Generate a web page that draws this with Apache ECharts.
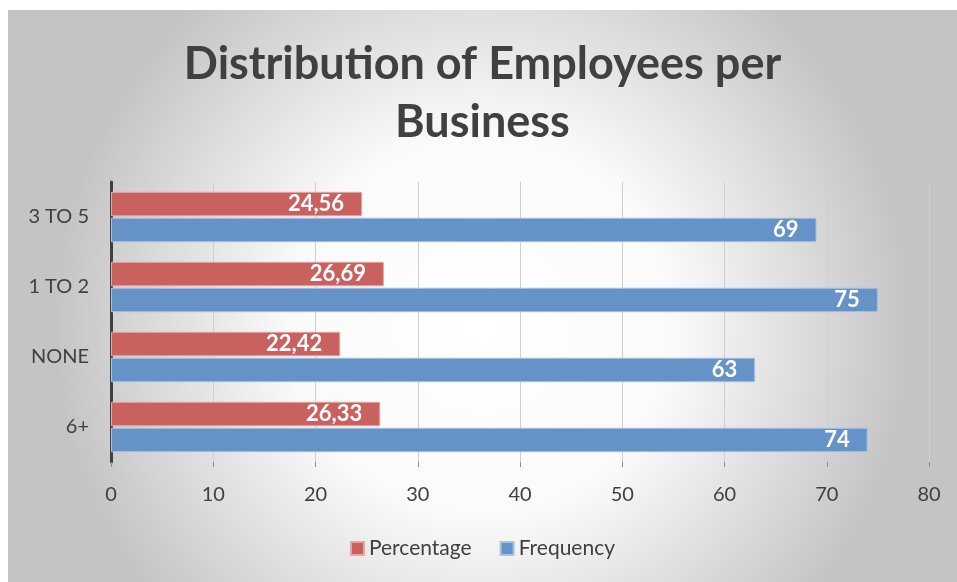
<!DOCTYPE html>
<html>
<head>
<meta charset="utf-8">
<script src="https://cdn.jsdelivr.net/npm/echarts@6/dist/echarts.min.js"></script>
<style>
  html, body { margin: 0; padding: 0; background: #ffffff; }
  #chart { position: absolute; left: 8px; top: 10px; width: 949px; height: 572px; }
</style>
</head>
<body>
<div id="chart"></div>
<script>
// Employee-count groups (bottom to top on the axis)
const categories = ['6+', 'NONE', '1 TO 2', '3 TO 5'];
const percentage = [26.33, 22.42, 26.69, 24.56];
const frequency = [74, 63, 75, 69];
const xTicks = { min: 0, max: 80, interval: 10 };

const FONT = 'Lato, "Open Sans", sans-serif';
const TEXT = '#404040';

const chart = echarts.init(document.getElementById('chart'), null, { renderer: 'canvas' });

const fmt = p => String(p.value).replace('.', ',');

chart.setOption({
  animation: false,
  backgroundColor: {
    type: 'radial', x: 0.5, y: 0.55, r: 0.75,
    colorStops: [
      { offset: 0, color: '#ffffff' },
      { offset: 0.45, color: '#fafafa' },
      { offset: 1, color: '#c4c4c4' }
    ]
  },
  title: {
    text: 'Distribution of Employees per\nBusiness',
    left: 'center',
    top: 20,
    textStyle: { fontFamily: FONT, fontWeight: 'bold', fontSize: 45, lineHeight: 58, color: TEXT }
  },
  legend: {
    data: ['Percentage', 'Frequency'],
    bottom: 18,
    left: 'center',
    icon: 'rect',
    itemWidth: 13,
    itemHeight: 13,
    itemGap: 28,
    textStyle: { fontFamily: FONT, fontSize: 21, color: TEXT }
  },
  grid: { left: 103, right: 28, top: 172, bottom: 120, containLabel: false },
  xAxis: {
    type: 'value',
    min: xTicks.min, max: xTicks.max, interval: xTicks.interval,
    axisLine: { show: false },
    axisTick: { show: true, length: 5, lineStyle: { color: '#8c8c8c' } },
    splitLine: { show: true, lineStyle: { color: '#cfcfcf', width: 1 } },
    axisLabel: { fontFamily: FONT, fontSize: 20, color: TEXT, margin: 23 }
  },
  yAxis: {
    type: 'category',
    data: categories,
    axisLine: { show: true, lineStyle: { color: '#404040', width: 3 } },
    axisTick: { show: false },
    axisLabel: { fontFamily: FONT, fontSize: 20, color: TEXT, margin: 22 }
  },
  series: [
    {
      name: 'Percentage',
      type: 'bar',
      data: percentage,
      barGap: '6%',
      barCategoryGap: '28%',
      itemStyle: { color: '#c9625f', borderColor: '#e3a7a5', borderWidth: 1 },
      label: {
        show: true, position: 'insideRight', distance: 18, formatter: fmt,
        fontFamily: FONT, fontWeight: 'bold', fontSize: 22, color: '#ffffff'
      }
    },
    {
      name: 'Frequency',
      type: 'bar',
      data: frequency,
      itemStyle: { color: '#6693c7', borderColor: '#a9c2e0', borderWidth: 1 },
      label: {
        show: true, position: 'insideRight', distance: 18, formatter: fmt,
        fontFamily: FONT, fontWeight: 'bold', fontSize: 22, color: '#ffffff'
      }
    }
  ]
});
</script>
</body>
</html>
